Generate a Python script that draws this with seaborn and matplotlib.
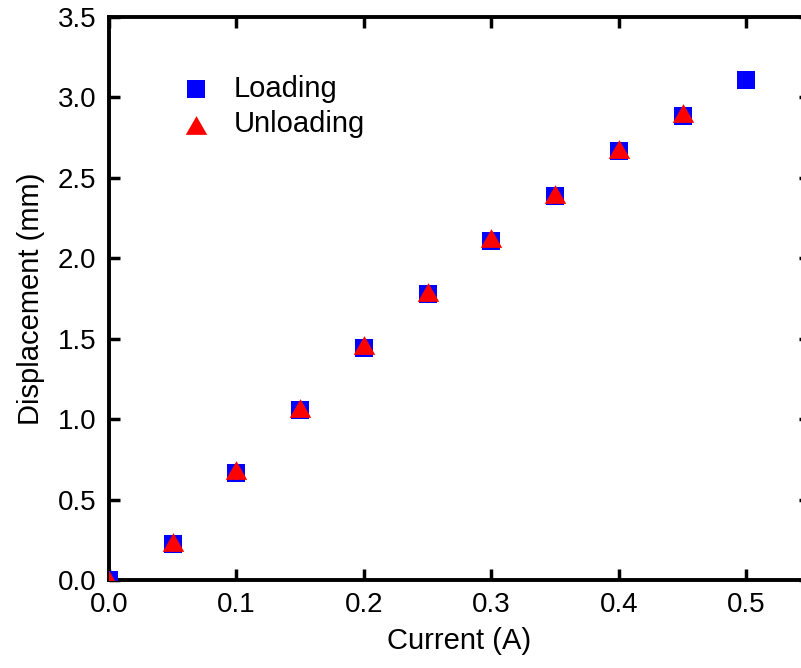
import matplotlib
matplotlib.use("Agg")
import matplotlib.pyplot as plt
import seaborn as sns
import numpy as np

current_loading = [0.0, 0.05, 0.10, 0.15, 0.20, 0.25, 0.30, 0.35, 0.40, 0.45, 0.50]
disp_loading = [0.0, 0.222, 0.663, 1.055, 1.441, 1.777, 2.106, 2.385, 2.666, 2.884, 3.108]
current_unloading = [0.0, 0.05, 0.10, 0.15, 0.20, 0.25, 0.30, 0.35, 0.40, 0.45]
disp_unloading = [0.0, 0.239, 0.681, 1.070, 1.458, 1.792, 2.127, 2.400, 2.680, 2.904]
xticks = [0.0, 0.1, 0.2, 0.3, 0.4, 0.5]
yticks = [0.0, 0.5, 1.0, 1.5, 2.0, 2.5, 3.0, 3.5]

sns.set_style("ticks")
plt.rcParams['font.family'] = ['Liberation Sans', 'DejaVu Sans']
plt.rcParams['text.color'] = 'black'
plt.rcParams['axes.labelcolor'] = 'black'

fig = plt.figure(figsize=(8.01, 6.68), dpi=100)
ax = fig.add_axes([109/801, 88/668, (810-109)/801, (580-17)/668])

tri = [(0, 0.87), (-1, -0.87), (1, -0.87)]
sns.scatterplot(x=current_loading, y=disp_loading, marker='s', s=150, color='#0000ff',
                linewidth=0, label='Loading', ax=ax, zorder=3)
sns.scatterplot(x=current_unloading, y=disp_unloading, marker=tri, s=240, color='#ff0000',
                linewidth=0, label='Unloading', ax=ax, zorder=4)

ax.set_xlim(0, 0.55)
ax.set_ylim(0, 3.5)
ax.set_xticks(xticks)
ax.set_xticklabels([f"{v:.1f}" for v in xticks])
ax.set_yticks(yticks)
ax.set_yticklabels([f"{v:.1f}" for v in yticks])
ax.set_xlabel("Current (A)", fontsize=21, labelpad=6)
ax.set_ylabel("Displacement (mm)", fontsize=21, labelpad=9)
ax.tick_params(direction='in', length=8, width=2.5, labelsize=20, pad=9,
               top=True, right=True, color='black', labelcolor='black')
for sp in ax.spines.values():
    sp.set_linewidth(2.8)
    sp.set_color('black')
    sp.set_visible(True)

leg = ax.legend(loc='upper left', bbox_to_anchor=(167/801, 1 - 75/668),
                bbox_transform=fig.transFigure, frameon=False, fontsize=21,
                handletextpad=0.3, labelspacing=0.25, borderaxespad=0, borderpad=0)

fig.savefig("out.png", dpi=100)
